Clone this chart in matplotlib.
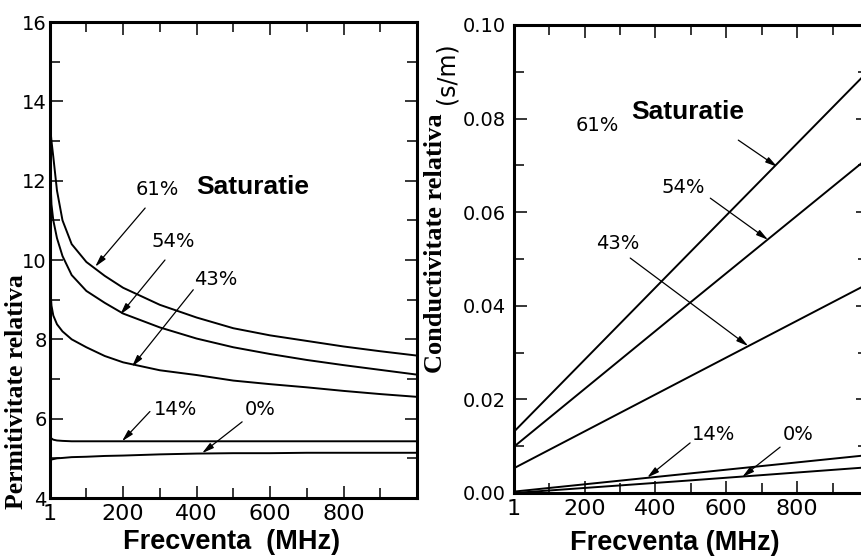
import matplotlib
matplotlib.use('Agg')
from matplotlib import pyplot as plt
from matplotlib.ticker import FixedLocator, MultipleLocator, FormatStrFormatter

# frecventa (MHz) pentru curbele de permitivitate
freq_eps = [1, 5, 10, 20, 35, 60, 100, 150, 200, 300, 400, 500, 600, 700, 800, 900, 1000]
eps_61 = [13.4, 13.0, 12.6, 11.75, 11.0, 10.4, 9.95, 9.6, 9.3, 8.87, 8.55, 8.28, 8.1, 7.96, 7.82, 7.7, 7.59]
eps_54 = [12.3, 11.4, 11.0, 10.55, 10.1, 9.62, 9.22, 8.92, 8.65, 8.3, 8.02, 7.8, 7.63, 7.48, 7.35, 7.23, 7.11]
eps_43 = [9.4, 8.85, 8.6, 8.38, 8.2, 8.0, 7.8, 7.58, 7.42, 7.22, 7.1, 6.96, 6.87, 6.79, 6.7, 6.62, 6.55]
eps_14 = [5.56, 5.5, 5.47, 5.45, 5.44, 5.43, 5.43, 5.43, 5.43, 5.43, 5.43, 5.43, 5.43, 5.43, 5.43, 5.43, 5.43]
eps_0 = [4.95, 4.97, 4.98, 5.0, 5.01, 5.03, 5.04, 5.06, 5.07, 5.1, 5.12, 5.13, 5.13, 5.14, 5.14, 5.14, 5.14]

# frecventa (MHz) pentru conductivitate
freq_sig = [1, 500, 1000]
sig_61 = [0.0131, 0.0516, 0.0901]
sig_54 = [0.0099, 0.0408, 0.0716]
sig_43 = [0.0053, 0.0250, 0.0447]
sig_14 = [0.0003, 0.0042, 0.0081]
sig_0 = [0.0, 0.0027, 0.0055]

xtick_vals = [1, 200, 400, 600, 800]
xtick_minor = [100, 300, 500, 700, 900]

# etichete: (text, x_text, y_text, x_start, y_start, x_tip, y_tip)
eps_notes = [
    ('61%', 293, 11.77, 260, 11.31, 124, 9.83),
    ('54%', 336, 10.46, 314, 10.0, 192, 8.62),
    ('43%', 451, 9.5, 391, 9.25, 224, 7.31),
    ('14%', 342, 6.23, 273, 6.18, 197, 5.43),
    ('0%', 573, 6.23, 524, 5.92, 415, 5.13),
]
sig_notes = [
    ('61%', 235, 0.0786, 634, 0.0754, 744, 0.0697),
    ('54%', 478, 0.0652, 555, 0.0630, 718, 0.0541),
    ('43%', 295, 0.0534, 329, 0.0502, 662, 0.0314),
    ('14%', 563, 0.0124, 498, 0.0107, 377, 0.0033),
    ('0%', 803, 0.0124, 752, 0.0098, 645, 0.0034),
]

W, H = 862, 559
fig = plt.figure(figsize=(W / 100, H / 100), dpi=100)

def px_axes(x0, y0, x1, y1):
    return fig.add_axes([x0 / W, 1 - y1 / H, (x1 - x0) / W, (y1 - y0) / H])

ax1 = px_axes(50, 22, 417, 498)
ax2 = px_axes(514, 25, 868, 493)

arrow = dict(arrowstyle='-|>,head_length=0.7,head_width=0.18', color='k', lw=0.9,
             shrinkA=0, shrinkB=0)

def style(ax, ypad):
    for s in ax.spines.values():
        s.set_linewidth(2.2)
    ax.set_xlim(1, 1000)
    ax.xaxis.set_major_locator(FixedLocator(xtick_vals))
    ax.xaxis.set_minor_locator(FixedLocator(xtick_minor))
    ax.tick_params(which='both', direction='in', top=True, right=True, width=1.1)
    ax.tick_params(which='major', length=9)
    ax.tick_params(which='minor', length=7)
    ax.tick_params(axis='x', labelsize=16, pad=4)
    ax.tick_params(axis='y', labelsize=14, pad=ypad)

# --- permitivitate
for ys in [eps_61, eps_54, eps_43, eps_14, eps_0]:
    ax1.plot(freq_eps, ys, 'k', lw=1.4)
style(ax1, 2.5)
ax1.set_ylim(4, 16)
ax1.yaxis.set_major_locator(MultipleLocator(2))
ax1.yaxis.set_minor_locator(MultipleLocator(1))
for t, xt, yt, xs, ys, xe, ye in eps_notes:
    ax1.text(xt, yt, t, fontsize=14, ha='center', va='center')
    ax1.annotate('', xy=(xe, ye), xytext=(xs, ys), arrowprops=arrow)
ax1.text(554, 11.84, 'Saturatie', fontsize=19, fontweight='bold',
         family='Liberation Sans', ha='center', va='center')
ax1.text(0.496, -0.092, 'Frecventa  (MHz)', transform=ax1.transAxes, fontsize=19.5,
         fontweight='bold', family='Liberation Sans', ha='center', va='center')
fig.text(17 / W, 1 - 392 / H, 'Permitivitate relativa', rotation=90, fontsize=18.5,
         fontweight='bold', family='Liberation Serif', ha='center', va='center')

# --- conductivitate
for ys in [sig_61, sig_54, sig_43, sig_14, sig_0]:
    ax2.plot(freq_sig, ys, 'k', lw=1.4)
style(ax2, 6)
ax2.set_ylim(0, 0.10)
ax2.yaxis.set_major_locator(MultipleLocator(0.02))
ax2.yaxis.set_minor_locator(MultipleLocator(0.01))
ax2.yaxis.set_major_formatter(FormatStrFormatter('%.2f'))
for t, xt, yt, xs, ys, xe, ye in sig_notes:
    ax2.text(xt, yt, t, fontsize=14, ha='center', va='center')
    ax2.annotate('', xy=(xe, ye), xytext=(xs, ys), arrowprops=arrow)
ax2.text(490, 0.0814, 'Saturatie', fontsize=19, fontweight='bold',
         family='Liberation Sans', ha='center', va='center')
ax2.text((675 - 514) / 354, -0.107, 'Frecventa (MHz)', transform=ax2.transAxes, fontsize=19.5,
         fontweight='bold', family='Liberation Sans', ha='center', va='center')
fig.text(436 / W, 1 - 373 / H, 'Conductivitate relativa', rotation=90, fontsize=19,
         fontweight='bold', family='Liberation Serif', ha='center', va='bottom')
fig.text(447 / W, 1 - 104 / H, '(s/m)', rotation=90, fontsize=17,
         ha='center', va='bottom')

fig.savefig('out.png', dpi=100)
